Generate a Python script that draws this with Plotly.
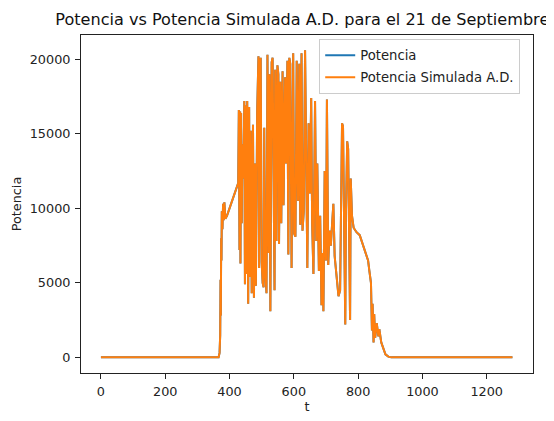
import plotly.graph_objects as go

# Serie (t, potencia en W)
t = [0, 100, 200, 300, 366, 369, 371, 372, 373, 374, 375, 376, 378, 380, 382, 384, 387,
     392, 402, 411, 420, 427, 429, 431, 433, 434, 436, 438, 440, 443, 446, 448, 450, 452,
     455, 458, 461, 463, 466, 469, 473, 476, 479, 482, 486, 490, 492, 494, 497, 500, 503,
     506, 508, 511, 515, 518, 522, 524, 527, 531, 534, 537, 540, 542, 546, 549, 552, 554,
     558, 561, 565, 568, 573, 576, 580, 583, 586, 589, 593, 598, 601, 605, 609, 613, 617,
     620, 624, 627, 631, 635, 639, 642, 646, 650, 654, 657, 661, 666, 670, 673, 678, 682,
     686, 689, 692, 696, 700, 703, 707, 711, 715, 719, 723, 727, 731, 735, 739, 744, 747,
     750, 753, 757, 760, 762, 766, 769, 772, 775, 777, 781, 786, 795, 805, 814, 823, 831,
     835, 840, 843, 845, 848, 850, 853, 858, 863, 866, 872, 879, 885, 894, 903, 1000, 1100,
     1200, 1280]

potencia = [0, 0, 0, 0, 0, 300, 1500, 5200, 2800, 8000, 6500, 9800, 8600, 10300, 9200,
            10400, 9300, 9500, 10100, 10700, 11300, 11700, 16600, 7200, 16500, 6300, 16400,
            9000, 14300, 12000, 17200, 4900, 16900, 5600, 17200, 3600, 16800, 5400, 15200,
            4300, 15600, 4000, 13000, 4800, 16500, 20200, 6000, 19500, 20100, 6400, 5000,
            4700, 15400, 5900, 4300, 20300, 7000, 19000, 3100, 19800, 20100, 7500, 4500,
            19300, 7800, 19600, 19000, 7600, 18500, 9000, 19200, 10200, 18800, 13000, 19900,
            6900, 20100, 19700, 6000, 20400, 8300, 8100, 19900, 10500, 19700, 8900, 20400,
            8500, 9800, 20600, 9600, 6000, 15700, 11000, 17400, 9000, 5600, 17200, 7800,
            13000, 5800, 9500, 3500, 7000, 3100, 12500, 6500, 17300, 6200, 8500, 7500, 8800,
            10300, 6800, 6000, 5200, 4100, 4500, 9800, 15700, 15500, 7000, 2200, 9500, 14500,
            14000, 5500, 2500, 12000, 9500, 8700, 8400, 8200, 7600, 6900, 6500, 5800, 5000,
            1800, 3600, 1000, 2900, 1300, 2300, 1400, 1900, 1000, 500, 200, 50, 0, 0, 0, 0, 0]

# la simulación coincide prácticamente con la medida (la azul queda tapada)
potencia_sim = list(potencia)

FONT = "DejaVu Sans"
W, H = 546, 413  # la página añade 8 px de margen al cuerpo

fig = go.Figure()
fig.add_trace(go.Scatter(x=t, y=potencia, mode="lines", name="Potencia",
                         legendgroup="a", line=dict(color="#1f77b4", width=2)))
fig.add_trace(go.Scatter(x=t, y=potencia_sim, mode="lines", name="Potencia Simulada A.D.",
                         legendgroup="b", line=dict(color="#ff7f0e", width=2)))

axis_common = dict(
    showgrid=False, zeroline=False, showline=True, mirror=True,
    linecolor="#222222", linewidth=1,
    ticks="outside", ticklen=5, tickwidth=1, tickcolor="#222222",
    ticklabelstandoff=2,
    tickfont=dict(family=FONT, size=12.8, color="#222222"),
)

fig.update_layout(
    width=W, height=H,
    paper_bgcolor="white", plot_bgcolor="white",
    margin=dict(l=73, r=21, t=27, b=48, autoexpand=False),
    font=dict(family=FONT, color="#222222"),
    title=dict(text="Potencia vs Potencia Simulada A.D. para el 21 de Septiembre",
               x=0.539, xref="container", xanchor="center",
               y=1 - 11.6 / H, yref="container", yanchor="middle",
               font=dict(family=FONT, size=16.1, color="#111111")),
    xaxis=dict(range=[-62, 1344], tick0=0, dtick=200, tickformat="d",
               title=dict(text="t", font=dict(family=FONT, size=12.8), standoff=3),
               **axis_common),
    yaxis=dict(range=[-1050, 21630], tick0=0, dtick=5000, tickformat="d",
               title=dict(text="Potencia", font=dict(family=FONT, size=12.8), standoff=5),
               **axis_common),
    legend=dict(x=0.527, y=0.988, xanchor="left", yanchor="top",
                bgcolor="rgba(255,255,255,0.8)", bordercolor="#cccccc", borderwidth=1,
                font=dict(family=FONT, size=13.2, color="#222222"),
                itemwidth=30, traceorder="grouped", tracegroupgap=2),
    showlegend=True,
)

fig.write_html("out.html")
